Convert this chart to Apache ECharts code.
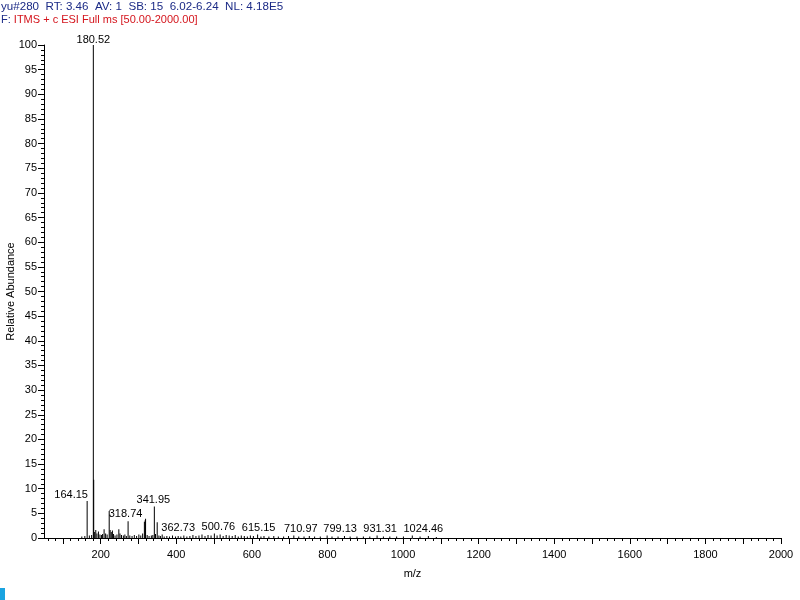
<!DOCTYPE html>
<html>
<head>
<meta charset="utf-8">
<title>yu#280 spectrum</title>
<script src="https://cdn.jsdelivr.net/npm/echarts@6/dist/echarts.min.js"></script>
<style>
  html, body { margin: 0; padding: 0; background: #fff; }
  #main { width: 800px; height: 600px; }
</style>
</head>
<body>
<div id="main"></div>
<script>
// peak list (m/z, relative abundance %)
const peakMz = [
  150, 158, 164.15, 170, 176, 180.52, 181.5, 184, 187, 190, 194, 198, 202, 205, 209, 213, 217,
  222.5, 225, 228, 231, 234, 238, 243, 248, 251, 255, 260, 264, 268, 272.5, 277, 283, 289, 295,
  301, 306, 311, 315.6, 317.7, 318.74, 323, 328, 334, 338, 341.95, 345, 349.5, 354, 358, 362.73,
  368, 375, 382, 390, 398, 405, 412, 420, 428, 436, 444, 452, 460, 468, 476, 484, 492, 500.76,
  508, 516, 524, 532, 540, 548, 556, 564, 572, 580, 588, 596, 604, 615.15, 624, 632, 645, 658,
  670, 684, 697, 710.97, 724, 738, 752, 766, 781, 799.13, 812, 828, 845, 860, 878, 895, 912,
  931.31, 948, 965, 983, 1001, 1024.46, 1045, 1067, 1088
];
const peakInt = [
  0.3, 0.4, 7.5, 0.5, 0.6, 100, 11.8, 1.2, 1.6, 0.9, 1.3, 0.7, 0.6, 0.8, 1.8, 0.9, 0.7,
  5.5, 1.6, 1.2, 1.5, 0.8, 0.5, 0.7, 1.8, 0.9, 0.6, 0.5, 0.7, 0.4, 3.4, 0.5, 0.4, 0.6, 0.4,
  0.7, 0.5, 0.9, 3.3, 3.6, 3.9, 0.6, 0.4, 0.5, 0.6, 6.4, 0.8, 3.2, 0.5, 0.4, 0.7,
  0.3, 0.4, 0.3, 0.5, 0.3, 0.4, 0.3, 0.5, 0.3, 0.4, 0.6, 0.4, 0.5, 0.7, 0.4, 0.6, 0.5, 0.9,
  0.5, 0.7, 0.4, 0.6, 0.5, 0.4, 0.6, 0.3, 0.5, 0.4, 0.3, 0.5, 0.4, 0.7, 0.3, 0.4, 0.3, 0.4,
  0.3, 0.3, 0.4, 0.5, 0.3, 0.3, 0.4, 0.3, 0.3, 0.5, 0.3, 0.3, 0.4, 0.3, 0.3, 0.3, 0.3,
  0.5, 0.3, 0.3, 0.3, 0.3, 0.5, 0.3, 0.4, 0.2
];
const labelledMz = [164.15, 180.52, 318.74, 341.95, 362.73, 500.76, 615.15, 710.97, 799.13, 931.31, 1024.46];

const headerLine1 = 'yu#280  RT: 3.46  AV: 1  SB: 15  6.02-6.24  NL: 4.18E5';
const headerLine2 = 'ITMS + c ESI Full ms [50.00-2000.00]';

// where each peak label sits relative to its peak top
const labelOffsets = {
  164.15: [-16, 2], 180.52: [0, 3], 318.74: [-20, 4], 341.95: [-1, 2],
  362.73: [16, 2], 500.76: [4, 2], 615.15: [1, 2], 710.97: [7, 2],
  799.13: [13, 2], 931.31: [3, 2], 1024.46: [11, 2]
};

const FONT = 'Liberation Sans, Arial, sans-serif';

let minorTicks = [];
for (let v = 60; v <= 2000; v += 20) minorTicks.push(v);
let majorTicks = [];
for (let v = 100; v <= 2000; v += 100) majorTicks.push(v);
let xLabels = [];
for (let v = 200; v <= 2000; v += 200) xLabels.push(v);

let barData = peakMz.map((mz, i) => {
  let item = { value: [mz, peakInt[i]] };
  if (labelledMz.indexOf(mz) >= 0) {
    item.label = { show: true, offset: labelOffsets[mz] || [0, 0] };
  }
  return item;
});

let myChart = echarts.init(document.getElementById('main'));
let option = {
  animation: false,
  backgroundColor: '#fff',
  textStyle: { fontFamily: FONT },
  grid: { left: 44, right: 19, top: 45, bottom: 62, outerBoundsMode: 'none', containLabel: false },
  graphic: [
    {
      type: 'text', left: 1, top: 1,
      style: { text: headerLine1, fill: '#1b2a86', font: '11.6px ' + FONT }
    },
    {
      type: 'text', left: 1, top: 14,
      style: {
        text: '{b|F:} {r|' + headerLine2 + '}',
        font: '11px ' + FONT,
        rich: {
          b: { fill: '#1b2a86', fontSize: 11, fontFamily: FONT },
          r: { fill: '#d4141c', fontSize: 11, fontFamily: FONT }
        }
      }
    },
    {
      type: 'rect', left: 0, top: 588,
      shape: { width: 5, height: 12 },
      style: { fill: '#1aa3e0' }
    }
  ],
  xAxis: [
    {
      type: 'value', min: 50, max: 2000,
      name: 'm/z', nameLocation: 'middle', nameGap: 30, nameMoveOverlap: false,
      nameTextStyle: { color: '#000', fontSize: 11, fontFamily: FONT },
      splitLine: { show: false },
      axisLine: { lineStyle: { color: '#000', width: 1 } },
      axisTick: { customValues: minorTicks, length: 3, lineStyle: { color: '#000' } },
      axisLabel: {
        customValues: xLabels, color: '#000', fontSize: 11, margin: 11, fontFamily: FONT,
        formatter: v => String(v)
      }
    },
    {
      type: 'value', min: 50, max: 2000, position: 'bottom',
      splitLine: { show: false },
      axisLine: { show: false },
      axisTick: { customValues: majorTicks, length: 6, lineStyle: { color: '#000' } },
      axisLabel: { show: false }
    }
  ],
  yAxis: {
    type: 'value', min: 0, max: 100, interval: 5,
    name: 'Relative Abundance', nameLocation: 'middle', nameGap: 28, nameRotate: 90,
    nameMoveOverlap: false,
    nameTextStyle: { color: '#000', fontSize: 11, fontFamily: FONT },
    splitLine: { show: false },
    axisLine: { show: true, lineStyle: { color: '#000', width: 1 } },
    axisTick: { show: true, length: 6, lineStyle: { color: '#000' } },
    minorTick: { show: true, splitNumber: 5, length: 3, lineStyle: { color: '#000' } },
    axisLabel: { color: '#000', fontSize: 11, margin: 7, fontFamily: FONT }
  },
  series: [
    {
      type: 'bar',
      xAxisIndex: 0,
      barWidth: 1,
      itemStyle: { color: '#000' },
      label: {
        show: false,
        position: 'top',
        distance: 3,
        color: '#000',
        fontSize: 11,
        fontFamily: FONT,
        formatter: p => p.value[0].toFixed(2)
      },
      data: barData
    }
  ]
};
option && myChart.setOption(option);
</script>
</body>
</html>
